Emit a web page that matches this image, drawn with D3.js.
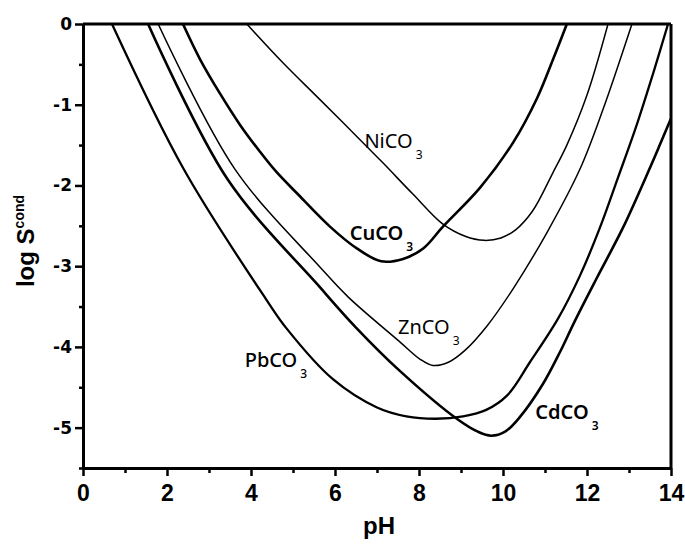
<!DOCTYPE html>
<html><head><meta charset="utf-8">
<script src="https://cdn.jsdelivr.net/npm/d3@7/dist/d3.min.js"></script>
<style>body{margin:0;background:#fff}svg{display:block}</style>
</head><body><svg id="c" width="685" height="544"></svg>
<script>
// ---- data ----
const xMajorTicks = [0, 2, 4, 6, 8, 10, 12, 14];
const xMinorTicks = [1, 3, 5, 7, 9, 11, 13];
const yMajorTicks = [0, -1, -2, -3, -4, -5];
const yMinorTicks = [-0.5, -1.5, -2.5, -3.5, -4.5, -5.5];

const niPH   = [3.90, 4.76, 5.57, 6.36, 7.14, 7.86, 8.57, 9.10, 9.55, 9.95, 10.30, 10.70, 11.19, 11.52, 12.0, 12.5];
const niLogS = [0, -0.48, -0.90, -1.31, -1.72, -2.11, -2.48, -2.63, -2.68, -2.65, -2.55, -2.32, -1.84, -1.50, -0.88, 0];

const cuPH   = [2.38, 2.79, 3.26, 3.74, 4.21, 4.6, 5.10, 5.88, 6.52, 7.10, 7.62, 8.10, 8.57, 9.45, 10.24, 10.81, 11.19, 11.52];
const cuLogS = [0, -0.44, -0.86, -1.25, -1.58, -1.83, -2.10, -2.51, -2.78, -2.94, -2.91, -2.78, -2.51, -2.03, -1.47, -0.92, -0.44, 0];

const znPH   = [1.79, 3.62, 5.64, 6.31, 7.55, 8.02, 8.33, 8.70, 9.10, 9.62, 10.24, 11.05, 11.83, 12.38, 13.07];
const znLogS = [0, -1.80, -3.01, -3.38, -3.94, -4.15, -4.23, -4.19, -4.04, -3.74, -3.28, -2.58, -1.80, -1.06, 0];

const cdPH   = [1.55, 3.45, 5.64, 6.5, 7.55, 8.90, 9.40, 9.72, 10.05, 10.40, 10.95, 11.36, 11.71, 12.24, 12.86, 13.5, 13.74, 14.0];
const cdLogS = [0, -1.93, -3.26, -3.76, -4.30, -4.89, -5.05, -5.10, -5.05, -4.87, -4.46, -4.06, -3.68, -3.14, -2.52, -1.78, -1.49, -1.17];

const pbPH   = [0.69, 2.40, 4.36, 4.86, 5.95, 7.00, 7.70, 8.40, 9.05, 9.60, 10.1, 10.64, 11.31, 11.83, 12.31, 12.74, 13.19, 13.57, 13.93];
const pbLogS = [0, -1.80, -3.41, -3.78, -4.40, -4.75, -4.86, -4.89, -4.86, -4.78, -4.60, -4.19, -3.65, -3.12, -2.52, -1.90, -1.24, -0.62, 0];

const seriesNames = ["Ni", "Cu", "Zn", "Cd", "Pb"];
const seriesPH    = [niPH, cuPH, znPH, cdPH, pbPH];
const seriesLogS  = [niLogS, cuLogS, znLogS, cdLogS, pbLogS];
const seriesWidth = [1.5, 2.6, 1.5, 2.6, 2.3];

const labelMain = ["NiCO", "CuCO", "ZnCO", "CdCO", "PbCO"];
const labelSub  = ["3", "3", "3", "3", "3"];
const labelPH   = [6.70, 6.35, 7.50, 10.77, 3.85];
const labelLogS = [-1.53, -2.67, -3.84, -4.89, -4.25];
const labelWeight = [400, 600, 400, 600, 500];

// ---- chart ----
const svg = d3.select("#c");
const x = d3.scaleLinear().domain([0, 14]).range([83, 671]);
const y = d3.scaleLinear().domain([-5.5, 0]).range([468, 24]);

svg.append("clipPath").attr("id", "clip").append("rect")
  .attr("x", x(0)).attr("y", y(0)).attr("width", x(14) - x(0)).attr("height", y(-5.5) - y(0));

const line = d3.line().x(d => x(d[0])).y(d => y(d[1])).curve(d3.curveCatmullRom.alpha(0.5));
const g = svg.append("g").attr("clip-path", "url(#clip)");
seriesNames.forEach((n, i) => {
  const pts = seriesPH[i].map((p, j) => [p, seriesLogS[i][j]]);
  g.append("path").datum(pts).attr("d", line)
    .attr("fill", "none").attr("stroke", "#000")
    .attr("stroke-width", seriesWidth[i]).attr("stroke-linejoin", "round");
});

// frame top/right
svg.append("line").attr("x1", x(0)).attr("x2", x(14)).attr("y1", y(0)).attr("y2", y(0))
  .attr("stroke", "#000").attr("stroke-width", 3);
svg.append("line").attr("x1", x(14)).attr("x2", x(14)).attr("y1", y(0)).attr("y2", y(-5.5))
  .attr("stroke", "#000").attr("stroke-width", 3);

// x axis
const xa = svg.append("g").attr("transform", `translate(0,${y(-5.5)})`)
  .call(d3.axisBottom(x).tickValues(xMajorTicks).tickSize(8).tickSizeOuter(0).tickPadding(9).tickFormat(d => String(d)));
svg.append("g").attr("transform", `translate(0,${y(-5.5)})`)
  .call(d3.axisBottom(x).tickValues(xMinorTicks).tickSize(5).tickSizeOuter(0).tickFormat(""))
  .select(".domain").remove();
xa.select(".domain").attr("stroke-width", 3);
xa.selectAll("text").attr("font-family", "'Liberation Sans', Arial, sans-serif")
  .attr("font-weight", "bold").attr("font-size", 23).attr("fill", "#000");

// y axis
const ya = svg.append("g").attr("transform", `translate(${x(0)},0)`)
  .call(d3.axisLeft(y).tickValues(yMajorTicks).tickSize(8).tickSizeOuter(0).tickPadding(3).tickFormat(d => String(d)));
svg.append("g").attr("transform", `translate(${x(0)},0)`)
  .call(d3.axisLeft(y).tickValues(yMinorTicks).tickSize(4).tickSizeOuter(0).tickFormat(""))
  .select(".domain").remove();
ya.select(".domain").attr("stroke-width", 3);
ya.selectAll("text").attr("font-family", "'DejaVu Sans', sans-serif")
  .attr("font-weight", "bold").attr("font-size", 17).attr("fill", "#000");
svg.selectAll("g.tick line").attr("stroke-width", 2.5);

// axis titles
svg.append("text").attr("x", 379).attr("y", 534).attr("text-anchor", "middle")
  .attr("font-family", "'Liberation Sans', Arial, sans-serif").attr("font-weight", "bold")
  .attr("font-size", 24).text("pH");
const yt = svg.append("text").attr("transform", "translate(34,241) rotate(-90)")
  .attr("text-anchor", "middle")
  .attr("font-family", "'Liberation Sans', Arial, sans-serif").attr("font-weight", "bold")
  .attr("font-size", 24);
yt.append("tspan").text("log S");
yt.append("tspan").attr("dy", -10).attr("font-size", 14).text("cond");

// curve labels
seriesNames.forEach((n, i) => {
  const t = svg.append("text").attr("x", x(labelPH[i])).attr("y", y(labelLogS[i]))
    .attr("font-family", "'Noto Sans', sans-serif").attr("font-size", 20)
    .attr("font-weight", labelWeight[i]).attr("fill", "#000");
  t.append("tspan").text(labelMain[i]);
  t.append("tspan").attr("dx", 3).attr("dy", 11).attr("font-size", 12).text(labelSub[i]);
});
</script></body></html>
